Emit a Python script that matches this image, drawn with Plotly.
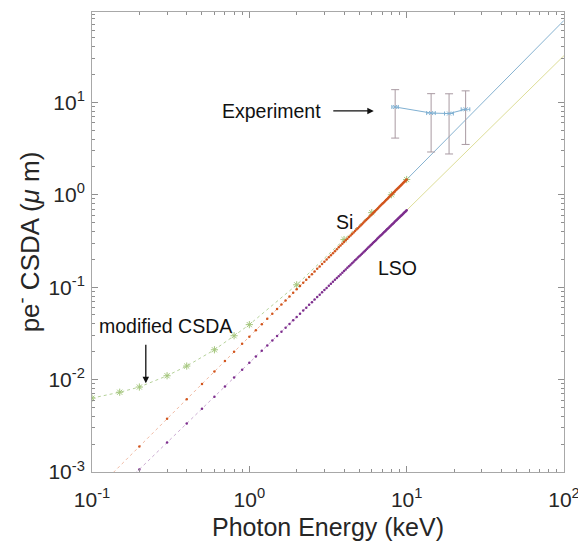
import plotly.graph_objects as go

# ---------------- data ----------------
energy_keV = [0.1, 0.2, 0.3, 0.4, 0.5, 0.6, 0.7, 0.8, 0.9, 1.0,
              1.1, 1.2, 1.3, 1.4, 1.5, 1.6, 1.7, 1.8, 1.9, 2.0,
              2.1, 2.2, 2.3, 2.4, 2.5, 2.6, 2.7, 2.8, 2.9, 3.0,
              3.1, 3.2, 3.3, 3.4, 3.5, 3.6, 3.7, 3.8, 3.9, 4.0,
              4.1, 4.2, 4.3, 4.4, 4.5, 4.6, 4.7, 4.8, 4.9, 5.0,
              5.1, 5.2, 5.3, 5.4, 5.5, 5.6, 5.7, 5.8, 5.9, 6.0,
              6.1, 6.2, 6.3, 6.4, 6.5, 6.6, 6.7, 6.8, 6.9, 7.0,
              7.1, 7.2, 7.3, 7.4, 7.5, 7.6, 7.7, 7.8, 7.9, 8.0,
              8.1, 8.2, 8.3, 8.4, 8.5, 8.6, 8.7, 8.8, 8.9, 9.0,
              9.1, 9.2, 9.3, 9.4, 9.5, 9.6, 9.7, 9.8, 9.9, 10.0]

si_csda_um = [0.000581, 0.001888, 0.003763, 0.006137, 0.008968, 0.01223, 0.01589, 0.01994, 0.02435, 0.02913,
              0.03425, 0.03972, 0.04551, 0.05162, 0.05804, 0.06477, 0.07180, 0.07913, 0.08677, 0.09466,
              0.1028, 0.1113, 0.1200, 0.1290, 0.1383, 0.1479, 0.1577, 0.1677, 0.1780, 0.1886,
              0.1994, 0.2104, 0.2217, 0.2333, 0.2451, 0.2571, 0.2694, 0.2818, 0.2946, 0.3076,
              0.3208, 0.3342, 0.3478, 0.3617, 0.3758, 0.3900, 0.4046, 0.4193, 0.4342, 0.4494,
              0.4648, 0.4804, 0.4962, 0.5122, 0.5284, 0.5449, 0.5615, 0.5784, 0.5955, 0.6128,
              0.6302, 0.6479, 0.6658, 0.6839, 0.7021, 0.7205, 0.7392, 0.7581, 0.7771, 0.7963,
              0.8157, 0.8354, 0.8552, 0.8752, 0.8954, 0.9158, 0.9363, 0.9571, 0.9781, 0.9992,
              1.0205, 1.0420, 1.0637, 1.0856, 1.1078, 1.1300, 1.1524, 1.1750, 1.1978, 1.2208,
              1.2440, 1.2673, 1.2908, 1.3145, 1.3383, 1.3624, 1.3866, 1.4110, 1.4356, 1.4600]

lso_csda_um = [0.000340, 0.001066, 0.002082, 0.003346, 0.004835, 0.006533, 0.008426, 0.01050, 0.01276, 0.01518,
               0.01776, 0.02050, 0.02340, 0.02644, 0.02963, 0.03296, 0.03642, 0.04003, 0.04377, 0.04764,
               0.05163, 0.05574, 0.05999, 0.06435, 0.06885, 0.07345, 0.07816, 0.08299, 0.08794, 0.09300,
               0.09816, 0.1034, 0.1088, 0.1143, 0.1199, 0.1256, 0.1314, 0.1373, 0.1434, 0.1495,
               0.1557, 0.1620, 0.1684, 0.1749, 0.1816, 0.1883, 0.1950, 0.2019, 0.2089, 0.2160,
               0.2232, 0.2305, 0.2378, 0.2453, 0.2528, 0.2604, 0.2682, 0.2760, 0.2839, 0.2919,
               0.2999, 0.3081, 0.3163, 0.3246, 0.3330, 0.3415, 0.3501, 0.3588, 0.3675, 0.3764,
               0.3853, 0.3943, 0.4034, 0.4125, 0.4218, 0.4311, 0.4405, 0.4499, 0.4595, 0.4691,
               0.4788, 0.4886, 0.4985, 0.5085, 0.5185, 0.5286, 0.5388, 0.5490, 0.5594, 0.5698,
               0.5803, 0.5908, 0.6014, 0.6121, 0.6229, 0.6337, 0.6446, 0.6557, 0.6669, 0.6781]

modified_energy_keV = [0.1, 0.15, 0.2, 0.3, 0.4, 0.6, 0.8, 1.0, 2.0, 4.0, 6.0, 8.0, 10.0]
modified_csda_um = [0.0063, 0.0073, 0.0083, 0.0110, 0.0140, 0.0210, 0.0298, 0.0393, 0.106, 0.327, 0.64, 1.0, 1.46]

si_extrap_energy_keV = [10, 20, 50, 100]
si_extrap_um = [1.46, 4.81, 23.2, 77.0]

lso_extrap_energy_keV = [10, 20, 50, 100]
lso_extrap_um = [0.678, 2.16, 10.07, 32.0]

exp_energy_keV = [8.45, 14.3, 18.6, 23.7]
exp_energy_err = [0.4, 0.9, 1.2, 1.5]
exp_csda_um = [8.9, 7.65, 7.56, 8.4]
exp_csda_err = [4.8, 4.75, 4.8, 4.9]

x_tick_vals = [0.1, 1, 10, 100]
x_tick_text = ["10<sup>-1</sup>", "10<sup>0</sup>", "10<sup>1</sup>", "10<sup>2</sup>"]
y_tick_vals = [0.001, 0.01, 0.1, 1, 10]
y_tick_text = ["10<sup>-3</sup>", "10<sup>-2</sup>", "10<sup>-1</sup>", "10<sup>0</sup>", "10<sup>1</sup>"]

# ---------------- figure ----------------
fig = go.Figure()

fig.add_trace(go.Scatter(
    x=si_extrap_energy_keV, y=si_extrap_um, mode="lines",
    line=dict(color="#86b2d0", width=1), hoverinfo="skip"))
fig.add_trace(go.Scatter(
    x=lso_extrap_energy_keV, y=lso_extrap_um, mode="lines",
    line=dict(color="#dede98", width=1), hoverinfo="skip"))

fig.add_trace(go.Scatter(
    x=modified_energy_keV, y=modified_csda_um, mode="lines+markers",
    line=dict(color="rgba(150,190,110,0.7)", width=1, dash="dot"),
    marker=dict(symbol="asterisk-open", size=6, color="#a4c67c",
                line=dict(color="#a4c67c", width=1))))

fig.add_trace(go.Scatter(
    x=energy_keV, y=si_csda_um, mode="lines+markers",
    line=dict(color="rgba(217,83,25,0.4)", width=1, dash="dot"),
    marker=dict(symbol="circle", size=2.5, color="#D2561E")))

fig.add_trace(go.Scatter(
    x=energy_keV, y=lso_csda_um, mode="lines+markers",
    line=dict(color="rgba(126,47,142,0.4)", width=1, dash="dot"),
    marker=dict(symbol="circle", size=2.5, color="#7E2F8E")))

fig.add_trace(go.Scatter(
    x=exp_energy_keV, y=exp_csda_um, mode="lines+markers",
    line=dict(color="#7fb0d2", width=1),
    marker=dict(symbol="x-thin-open", size=4, color="#7fb0d2",
                line=dict(color="#7fb0d2", width=1)),
    error_x=dict(type="data", array=exp_energy_err, color="#7fb0d2", thickness=1, width=2),
    error_y=dict(type="data", array=exp_csda_err, color="#a99aa2", thickness=1, width=4)))

axis_common = dict(
    type="log", showgrid=False, zeroline=False, automargin=False,
    showline=True, linecolor="#a8a8a8", linewidth=1, mirror="allticks",
    ticks="inside", ticklen=6, tickcolor="#8f8f8f", tickwidth=1,
    tickfont=dict(size=21, color="#262626"),
)

fig.update_xaxes(
    **axis_common, range=[-1, 2],
    tickmode="array", tickvals=x_tick_vals, ticktext=x_tick_text,
    ticklabelstandoff=9,
    minor=dict(ticks="inside", ticklen=3, tickcolor="#8f8f8f", showgrid=False,
               tickvals=[m * d for d in (0.1, 1, 10) for m in range(2, 10)]),
    title=dict(text="Photon Energy (keV)", font=dict(size=25, color="#262626"), standoff=8),
)
fig.update_yaxes(
    **axis_common, range=[-3, 1.977],
    tickmode="array", tickvals=y_tick_vals, ticktext=y_tick_text,
    ticklabelstandoff=2,
    minor=dict(ticks="inside", ticklen=3, tickcolor="#8f8f8f", showgrid=False,
               tickvals=[m * d for d in (0.001, 0.01, 0.1, 1, 10) for m in range(2, 10)]),
    title=dict(text="pe<sup>-</sup> CSDA (<i>μ</i> m)", font=dict(size=26, color="#262626"), standoff=1),
)

txt_font = dict(size=19.5, color="#111111", family="Liberation Sans, Arial, sans-serif")
common_ann = dict(xref="paper", yref="paper", xanchor="center", yanchor="middle")
fig.add_annotation(**common_ann, x=0.381, y=0.785, text="Experiment",
                   showarrow=False, font=txt_font)
fig.add_annotation(**common_ann, x=0.597, y=0.785, text="",
                   showarrow=True, ax=-42, ay=0,
                   arrowhead=2, arrowsize=1, arrowwidth=1.3, arrowcolor="#111111")
fig.add_annotation(**common_ann, x=0.536, y=0.543, text="Si",
                   showarrow=False, font=txt_font)
fig.add_annotation(**common_ann, x=0.648, y=0.443, text="LSO",
                   showarrow=False, font=txt_font)
fig.add_annotation(**common_ann, x=0.155, y=0.317, text="modified CSDA",
                   showarrow=False, font=txt_font)
fig.add_annotation(**common_ann, x=0.114, y=0.193, text="",
                   showarrow=True, ax=0, ay=-40,
                   arrowhead=2, arrowsize=1, arrowwidth=1.3, arrowcolor="#111111")

# The page body has an 8px default margin, so the figure is sized to fill the rest.
fig.update_layout(
    width=578, height=535,
    margin=dict(l=84, r=22, t=4, b=71),
    paper_bgcolor="white", plot_bgcolor="white",
    showlegend=False,
    font=dict(family="Liberation Sans, Arial, sans-serif", color="#262626"),
)

fig.write_html("out.html")
